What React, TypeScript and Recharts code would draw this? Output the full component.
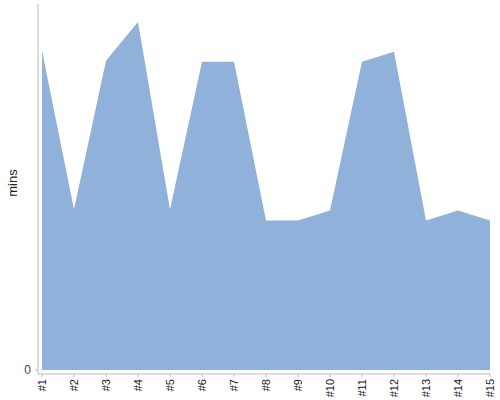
import React from "react";
import { AreaChart, Area, XAxis, YAxis } from "recharts";

const categories = ["#1", "#2", "#3", "#4", "#5", "#6", "#7", "#8", "#9", "#10", "#11", "#12", "#13", "#14", "#15"];
const minsValues = [32, 16.1, 31, 34.9, 16.1, 30.9, 30.9, 15, 15, 16, 30.9, 31.9, 15, 16, 15];
const yTicks = [0];

const data = categories.map((c, i) => ({ name: c, mins: minsValues[i] }));

const FONT = "'Liberation Sans', Arial, sans-serif";

const XTick = (props: any) => {
  const { x, y, payload } = props;
  return (
    <g transform={`translate(${x},${y})`}>
      <text
        transform="rotate(-90)"
        textAnchor="end"
        dy="0.35em"
        fontSize={11}
        fill="#222"
        fontFamily={FONT}
      >
        {payload.value}
      </text>
    </g>
  );
};

export default function App() {
  return (
    <div style={{ position: "absolute", left: 0, top: 0, width: 500, height: 400, background: "#fff" }}>
      <AreaChart width={500} height={400} data={data} margin={{ top: 4, right: 10, bottom: 0, left: 0 }}>
        <XAxis
          dataKey="name"
          height={26}
          padding={{ left: 4, right: 0 }}
          tick={<XTick />}
          tickSize={3}
          tickMargin={2}
          interval={0}
          stroke="#bbb"
          axisLine={{ stroke: "#bbb" }}
          tickLine={{ stroke: "#bbb" }}
        />
        <YAxis
          width={38}
          domain={[0, 36.7]}
          ticks={yTicks}
          padding={{ top: 0, bottom: 4 }}
          tickSize={3}
          tickMargin={4}
          axisLine={{ stroke: "#bbb" }}
          tickLine={{ stroke: "#bbb" }}
          tick={{ fill: "#444", fontSize: 12, fontFamily: FONT }}
          label={{
            value: "mins",
            angle: -90,
            position: "insideLeft",
            offset: 0,
            dx: 12,
            dy: -6,
            style: { fill: "#222", fontSize: 13, fontFamily: FONT, textAnchor: "middle" },
          }}
        />
        <Area
          type="linear"
          dataKey="mins"
          stroke="none"
          fill="#8fb1da"
          fillOpacity={1}
          isAnimationActive={false}
          dot={false}
          activeDot={false}
        />
      </AreaChart>
    </div>
  );
}
